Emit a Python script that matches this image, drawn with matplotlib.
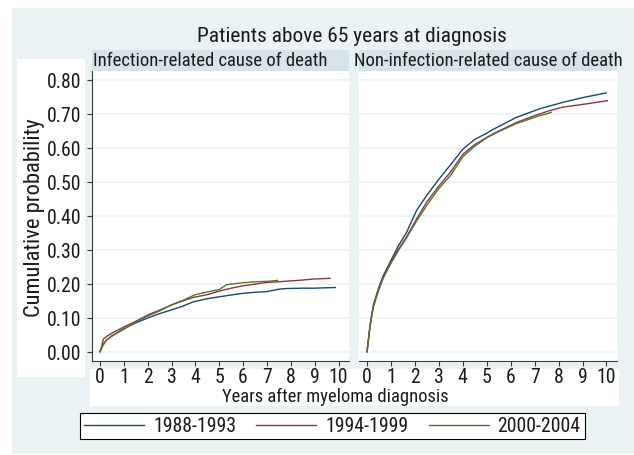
import os
import matplotlib
matplotlib.use('Agg')
import matplotlib.pyplot as plt
from matplotlib.patches import Rectangle
from matplotlib import font_manager as fm
from matplotlib.textpath import TextPath

# ---------------- data ----------------
title = "Patients above 65 years at diagnosis"
panel_titles = ["Infection-related cause of death", "Non-infection-related cause of death"]
x_title = "Years after myeloma diagnosis"
y_title = "Cumulative probability"
series_labels = ["1988-1993", "1994-1999", "2000-2004"]
series_colors = ["#1a476f", "#90353b", "#55752f"]
y_ticks = [0.0, 0.1, 0.2, 0.3, 0.4, 0.5, 0.6, 0.7, 0.8]
y_ticklabels = ["0.00", "0.10", "0.20", "0.30", "0.40", "0.50", "0.60", "0.70", "0.80"]
x_ticks = [0, 1, 2, 3, 4, 5, 6, 7, 8, 9, 10]

# infection-related
inf_t_1 = [0, 0.1, 0.25, 0.42, 0.7, 0.98, 1.5, 2.03, 2.5, 3.08, 3.43, 3.92, 4.5, 5.03, 5.5, 6.0, 6.5, 7.0, 7.5, 7.83, 8.5, 8.95, 9.4, 9.86]
inf_p_1 = [0, 0.018, 0.033, 0.042, 0.055, 0.067, 0.085, 0.100, 0.112, 0.125, 0.133, 0.147, 0.156, 0.162, 0.167, 0.172, 0.175, 0.177, 0.184, 0.186, 0.187, 0.187, 0.188, 0.189]
inf_t_2 = [0, 0.07, 0.14, 0.28, 0.56, 0.98, 1.54, 2.03, 2.52, 3.08, 3.5, 3.92, 4.5, 5.03, 5.5, 6.0, 6.5, 7.0, 7.5, 8.1, 8.5, 8.95, 9.3, 9.65]
inf_p_2 = [0, 0.015, 0.037, 0.045, 0.057, 0.072, 0.091, 0.109, 0.123, 0.140, 0.150, 0.160, 0.168, 0.179, 0.187, 0.194, 0.199, 0.204, 0.206, 0.209, 0.211, 0.214, 0.215, 0.216]
inf_t_3 = [0, 0.1, 0.25, 0.5, 1.0, 1.5, 2.0, 2.5, 3.0, 3.5, 4.0, 4.5, 5.0, 5.3, 5.6, 6.0, 6.5, 7.0, 7.45]
inf_p_3 = [0, 0.015, 0.033, 0.047, 0.066, 0.088, 0.105, 0.120, 0.138, 0.152, 0.168, 0.176, 0.183, 0.197, 0.200, 0.203, 0.206, 0.207, 0.210]

# non-infection-related
non_t_1 = [0, 0.125, 0.26, 0.47, 0.68, 0.96, 1.31, 1.65, 2.07, 2.49, 2.97, 3.46, 4.01, 4.5, 4.99, 5.25, 6.24, 7.2, 8.17, 9.0, 9.99]
non_p_1 = [0, 0.077, 0.136, 0.185, 0.224, 0.263, 0.312, 0.351, 0.416, 0.460, 0.505, 0.548, 0.597, 0.625, 0.643, 0.654, 0.690, 0.715, 0.734, 0.748, 0.762]
non_t_2 = [0, 0.125, 0.26, 0.47, 0.68, 0.96, 1.31, 1.65, 2.07, 2.49, 2.97, 3.5, 4.01, 4.5, 5.25, 6.24, 7.0, 7.63, 8.17, 9.0, 10.04]
non_p_2 = [0, 0.075, 0.133, 0.180, 0.220, 0.258, 0.302, 0.338, 0.391, 0.440, 0.485, 0.530, 0.582, 0.610, 0.641, 0.675, 0.695, 0.710, 0.720, 0.728, 0.739]
non_t_3 = [0, 0.125, 0.26, 0.47, 0.68, 0.96, 1.31, 1.65, 2.07, 2.49, 2.97, 3.5, 4.01, 4.5, 5.0, 5.5, 6.24, 6.8, 7.2, 7.5, 7.69]
non_p_3 = [0, 0.073, 0.130, 0.178, 0.217, 0.255, 0.298, 0.335, 0.385, 0.430, 0.478, 0.520, 0.575, 0.605, 0.630, 0.648, 0.672, 0.685, 0.695, 0.700, 0.705]

inf_series = [(inf_t_1, inf_p_1), (inf_t_2, inf_p_2), (inf_t_3, inf_p_3)]
non_series = [(non_t_1, non_p_1), (non_t_2, non_p_2), (non_t_3, non_p_3)]


# ---------------- font: prefer a narrow / condensed face ----------------
def pick_font():
    files = [f.fname for f in fm.fontManager.ttflist]

    def norm(p):
        return os.path.basename(p).lower().replace('_', '').replace(' ', '')

    prefs = ['liberationsansnarrow-regular', 'arialnarrow', 'robotocondensed-regular',
             'notosans-condensed.', 'notosans-condensedregular', 'dejavusanscondensed.ttf',
             'opensans-condensed']
    for p in prefs:
        for fn in files:
            if p in norm(fn):
                return fn
    bad = ('bold', 'italic', 'oblique', 'light', 'thin', 'black', 'medium', 'semi', 'extra', 'heavy')
    for fn in files:
        b = norm(fn)
        if ('narrow' in b or 'condensed' in b) and not any(x in b for x in bad):
            return fn
    return fm.findfont('Liberation Sans')


FONT = pick_font()
_fp = fm.FontProperties(fname=FONT)


def fit_size(s, target_px):
    w = TextPath((0, 0), s, size=100, prop=_fp).get_extents().width
    return 72.0 * target_px / w


S_TICK = fit_size("1988-1993", 80)
S_STRIP = fit_size(panel_titles[1], 266)
S_TITLE = fit_size(title, 308)
S_YT = fit_size(y_title, 196)
S_XT = fit_size(x_title, 225)

fp_tick = fm.FontProperties(fname=FONT, size=S_TICK)
fp_strip = fm.FontProperties(fname=FONT, size=S_STRIP)
fp_title = fm.FontProperties(fname=FONT, size=S_TITLE)
fp_yt = fm.FontProperties(fname=FONT, size=S_YT)
fp_xt = fm.FontProperties(fname=FONT, size=S_XT)

# ---------------- layout ----------------
W, H = 634, 456
fig = plt.figure(figsize=(W / 100, H / 100), dpi=100)
fig.patch.set_facecolor('white')

BG = '#eaf2f3'
STRIP = '#d6e3e9'
AXC = '#3a3a3a'
TXT = '#1a1a1a'


def rect(x0, y0, x1, y1):
    return [x0 / W, 1 - y1 / H, (x1 - x0) / W, (y1 - y0) / H]


def add_bg(x0, y0, x1, y1, color):
    fig.patches.append(Rectangle((x0 / W, 1 - y1 / H), (x1 - x0) / W, (y1 - y0) / H,
                                 transform=fig.transFigure, facecolor=color,
                                 edgecolor='none', zorder=-10))


add_bg(12, 9, 634, 455, BG)          # graph region
add_bg(17, 60, 85, 378, 'white')     # y-title area
add_bg(90, 370, 619, 407, 'white')   # x-title area
add_bg(92, 51, 349, 72, STRIP)       # strip left
add_bg(359, 51, 617, 72, STRIP)      # strip right

axL = fig.add_axes(rect(92, 72, 349, 362))
axR = fig.add_axes(rect(359, 72, 617, 362))

handles = []
for ax, series in ((axL, inf_series), (axR, non_series)):
    ax.set_xlim(-0.335, 10.44)
    ax.set_ylim(-0.0274, 0.8265)
    ax.set_facecolor('white')
    for s in ('top', 'right'):
        ax.spines[s].set_visible(False)
    ax.spines['bottom'].set_color(AXC)
    ax.spines['left'].set_color(AXC)
    ax.set_yticks(y_ticks)
    ax.set_yticklabels(y_ticklabels, fontproperties=fp_tick, color=TXT)
    ax.set_xticks(x_ticks)
    ax.set_xticklabels([str(v) for v in x_ticks], fontproperties=fp_tick, color=TXT)
    ax.grid(axis='y', color=BG, lw=1.2)
    ax.set_axisbelow(True)
    ax.tick_params(axis='x', length=3.5, width=0.8, pad=0.5, color=AXC)
    ax.tick_params(axis='y', length=3.5, width=0.8, pad=4, color=AXC)
    hs = []
    for (t, p), c, lab in zip(series, series_colors, series_labels):
        h, = ax.plot(t, p, color=c, lw=1.0, label=lab)
        hs.append(h)
    handles = hs

axR.spines['left'].set_visible(False)
axR.tick_params(axis='y', left=False, labelleft=False)

fig.text(352 / W, 1 - 37 / H, title, ha='center', va='center', fontproperties=fp_title, color=TXT)
fig.text(210.5 / W, 1 - 61 / H, panel_titles[0], ha='center', va='center', fontproperties=fp_strip, color=TXT)
fig.text(488 / W, 1 - 61 / H, panel_titles[1], ha='center', va='center', fontproperties=fp_strip, color=TXT)
fig.text(35 / W, 1 - 218 / H, y_title, rotation=90, ha='center', va='center',
         fontproperties=fp_yt, color=TXT)
fig.text(335.5 / W, 1 - 397 / H, x_title, ha='center', va='center',
         fontproperties=fp_xt, color=TXT)

fs_px = S_TICK * 100 / 72
leg = fig.legend(handles, series_labels, loc='center', bbox_to_anchor=(332.5 / W, 1 - 427 / H),
                 ncol=3, frameon=True, fancybox=False, edgecolor='black', framealpha=1,
                 prop=fp_tick, handlelength=60 / fs_px, handletextpad=9 / fs_px,
                 columnspacing=20 / fs_px, borderpad=0.2, borderaxespad=0)
leg.get_frame().set_linewidth(0.8)
for t in leg.get_texts():
    t.set_color(TXT)

fig.savefig('out.png', dpi=100, facecolor='white')
